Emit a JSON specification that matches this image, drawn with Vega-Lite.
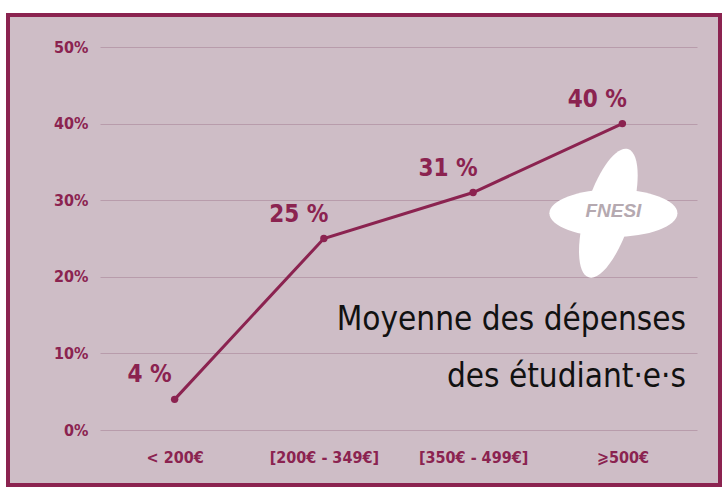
{
  "$schema": "https://vega.github.io/schema/vega-lite/v6.json",
  "width": 712,
  "height": 470,
  "autosize": {"type": "none"},
  "padding": {"left": 8, "top": 15, "right": 2, "bottom": 2},
  "background": "#ffffff",
  "config": {
    "view": {"fill": "#cebdc6", "stroke": "#8b2350", "strokeWidth": 4},
    "font": "DejaVu Sans Condensed, Roboto, sans-serif"
  },
  "title": {
    "text": ["Moyenne des dépenses", "des étudiant·e·s"],
    "orient": "bottom",
    "anchor": "end",
    "frame": "group",
    "offset": -181,
    "dx": -34,
    "fontSize": 33,
    "fontWeight": "normal",
    "color": "#111111",
    "lineHeight": 57,
    "font": "DejaVu Sans Condensed, Roboto, sans-serif"
  },
  "data": {
    "values": [
      {"tranche": "< 200€", "part": 4, "label": "4 %"},
      {"tranche": "[200€ - 349€]", "part": 25, "label": "25 %"},
      {"tranche": "[350€ - 499€]", "part": 31, "label": "31 %"},
      {"tranche": "⩾500€", "part": 40, "label": "40 %"}
    ]
  },
  "encoding": {
    "x": {
      "field": "tranche",
      "type": "ordinal",
      "sort": null,
      "scale": {"type": "point", "range": [92, 689], "padding": 0.5},
      "axis": {
        "title": null,
        "orient": "bottom",
        "offset": -40,
        "domain": false,
        "ticks": false,
        "tickSize": 0,
        "labelPadding": 4,
        "labelAngle": 0,
        "labelFontSize": 16,
        "labelFontWeight": "bold",
        "labelColor": "#8b2350",
        "labelFont": "DejaVu Sans Condensed, Roboto, sans-serif",
        "grid": false
      }
    },
    "y": {
      "field": "part",
      "type": "quantitative",
      "scale": {"domain": [0, 50], "range": [415, 32], "nice": false},
      "axis": {
        "title": null,
        "orient": "left",
        "offset": -82,
        "values": [0, 10, 20, 30, 40, 50],
        "labelExpr": "datum.value + '%'",
        "domain": false,
        "ticks": false,
        "tickSize": 0,
        "labelPadding": 2,
        "labelFontSize": 16,
        "labelFontWeight": "bold",
        "labelColor": "#8b2350",
        "labelFont": "DejaVu Sans Condensed, Roboto, sans-serif",
        "grid": true,
        "gridColor": "#b89cab",
        "gridWidth": 1.2
      }
    }
  },
  "layer": [
    {
      "mark": {"type": "line", "color": "#8b2350", "strokeWidth": 3}
    },
    {
      "mark": {"type": "point", "filled": true, "color": "#8b2350", "size": 55, "opacity": 1}
    },
    {
      "mark": {"type": "text", "color": "#8b2350", "fontSize": 24, "fontWeight": "bold", "dx": -25, "dy": -24, "font": "DejaVu Sans Condensed, Roboto, sans-serif"},
      "encoding": {"text": {"field": "label"}}
    },
    {
      "transform": [{"filter": "datum.tranche === '⩾500€'"}],
      "encoding": {
        "y": {"datum": 28.3, "type": "quantitative"}
      },
      "layer": [
        {
          "mark": {"type": "point", "filled": true, "color": "#ffffff", "opacity": 1, "size": 16400, "strokeWidth": 0, "shape": "M -1.14 0 C -1.14 -0.204 -0.692 -0.37 -0.14 -0.37 C 0.412 -0.37 0.86 -0.204 0.86 0 C 0.86 0.204 0.412 0.37 -0.14 0.37 C -0.692 0.37 -1.14 0.204 -1.14 0 Z"}
        },
        {
          "mark": {"type": "point", "filled": true, "color": "#ffffff", "opacity": 1, "size": 18000, "angle": 107, "strokeWidth": 0, "shape": "M -0.939 0.2 C -0.939 0.012 -0.491 -0.14 0.061 -0.14 C 0.613 -0.14 1.061 0.012 1.061 0.2 C 1.061 0.388 0.613 0.54 0.061 0.54 C -0.491 0.54 -0.939 0.388 -0.939 0.2 Z"}
        },
        {
          "mark": {"type": "text", "text": "FNESI", "color": "#b5a9b0", "fontSize": 19, "fontWeight": "bold", "fontStyle": "italic", "font": "Liberation Sans", "dx": -9, "dy": -2}
        }
      ]
    }
  ]
}
